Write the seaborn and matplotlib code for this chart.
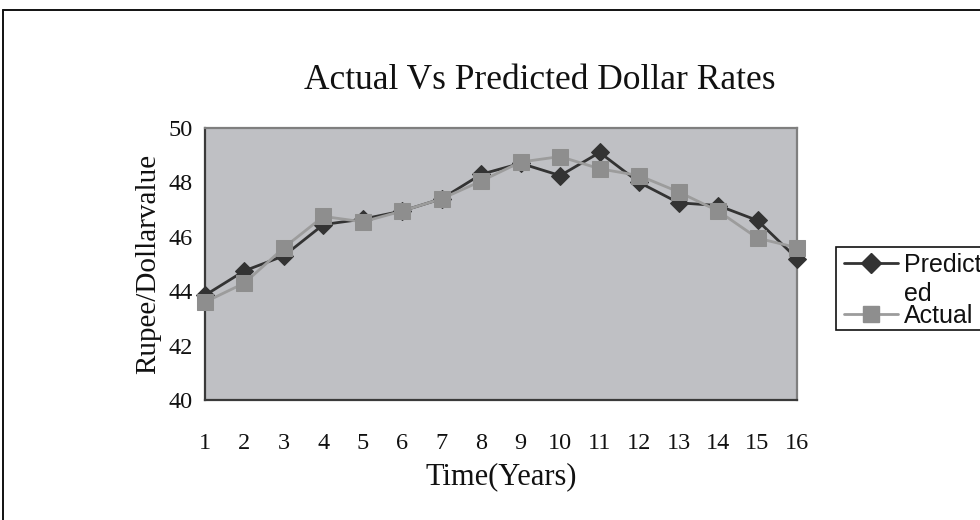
import matplotlib
matplotlib.use("Agg")
import matplotlib.pyplot as plt
import seaborn as sns
import pandas as pd
from matplotlib.lines import Line2D
from matplotlib.patches import Rectangle

# Yearly rupee/dollar values
years = list(range(1, 17))
predicted = [43.85, 44.75, 45.3, 46.45, 46.65, 46.95, 47.4, 48.3,
             48.7, 48.25, 49.1, 48.0, 47.25, 47.15, 46.6, 45.2]
actual = [43.6, 44.3, 45.6, 46.75, 46.55, 46.95, 47.4, 48.05,
          48.75, 48.95, 48.5, 48.25, 47.65, 46.95, 45.95, 45.6]
y_ticks = [40, 42, 44, 46, 48, 50]

title = "Actual Vs Predicted Dollar Rates"
x_label = "Time(Years)"
y_label = "Rupee/Dollarvalue"
series_names = ["Predict\ned", "Actual"]

df = pd.DataFrame({"year": years, "predicted": predicted, "actual": actual})

sns.set_style("white")
plt.rcParams["font.family"] = ["Liberation Serif", "DejaVu Serif"]

W, H = 980, 520
fig = plt.figure(figsize=(W / 100, H / 100), dpi=100)
fig.patch.set_facecolor("white")

def fx(px):
    return px / W

def fy(py):
    return 1 - py / H

ax = fig.add_axes([fx(205), fy(400), fx(797) - fx(205), fy(128) - fy(400)])
ax.set_facecolor("#bfc0c4")

pred_color = "#333333"
act_line = "#9c9c9c"
act_marker = "#8e8e8e"

sns.lineplot(data=df, x="year", y="predicted", ax=ax, color=pred_color,
             linewidth=2.0, marker="D", markersize=9,
             markeredgecolor=pred_color, markerfacecolor=pred_color,
             clip_on=False, zorder=3)
sns.lineplot(data=df, x="year", y="actual", ax=ax, color=act_line,
             linewidth=2.0, marker="s", markersize=11,
             markeredgecolor=act_marker, markerfacecolor=act_marker,
             clip_on=False, zorder=4)

ax.set_xlim(1, 16)
ax.set_ylim(40, 50)
ax.set_xticks(years)
ax.set_yticks(y_ticks)

for side in ("top", "right"):
    ax.spines[side].set_color("#7f7f7f")
    ax.spines[side].set_linewidth(1.6)
for side in ("left", "bottom"):
    ax.spines[side].set_color("#3a3a3a")
    ax.spines[side].set_linewidth(1.6)

ax.tick_params(axis="both", direction="inout", length=14, width=1.2,
               color="#222222", labelsize=17.5, labelcolor="#111111")
ax.tick_params(axis="x", pad=17)
ax.tick_params(axis="y", pad=2)

ax.set_xlabel(x_label, fontsize=22, color="#111111")
ax.set_ylabel(y_label, fontsize=21, color="#111111")
ax.xaxis.set_label_coords(0.5, (400 - 477) / 272)
ax.xaxis.label.set_verticalalignment("center")
ax.yaxis.set_label_coords((148 - 205) / 592, 0.5)
ax.yaxis.label.set_verticalalignment("center")

fig.text(fx(540), fy(89), title, ha="center", va="baseline",
         fontsize=25.5, color="#111111")

# Outer chart frame (open at right and bottom)
fig.add_artist(Line2D([fx(3), fx(3)], [0, fy(10)], color="#111111",
                      linewidth=1.4, transform=fig.transFigure))
fig.add_artist(Line2D([fx(3), 1], [fy(10), fy(10)], color="#111111",
                      linewidth=1.4, transform=fig.transFigure))

# Legend box
fig.add_artist(Rectangle((fx(836), fy(330)), fx(1000) - fx(836),
                         fy(247) - fy(330), transform=fig.transFigure,
                         facecolor="white", edgecolor="#111111",
                         linewidth=1.2))
fig.add_artist(Line2D([fx(844), fx(898)], [fy(263), fy(263)],
                      color=pred_color, linewidth=2.0,
                      transform=fig.transFigure))
fig.add_artist(Line2D([fx(871)], [fy(263)], color=pred_color, marker="D",
                      markersize=10, transform=fig.transFigure))
fig.add_artist(Line2D([fx(844), fx(898)], [fy(314), fy(314)],
                      color=act_line, linewidth=2.0,
                      transform=fig.transFigure))
fig.add_artist(Line2D([fx(871)], [fy(314)], color=act_marker, marker="s",
                      markersize=12, transform=fig.transFigure))

leg_font = ["Liberation Sans", "DejaVu Sans"]
name_a, name_b = series_names[0].split("\n")
fig.text(fx(904), fy(272), name_a, family=leg_font, fontsize=18,
         va="baseline", ha="left", color="#111111")
fig.text(fx(904), fy(301), name_b, family=leg_font, fontsize=18,
         va="baseline", ha="left", color="#111111")
fig.text(fx(904), fy(323), series_names[1], family=leg_font, fontsize=18,
         va="baseline", ha="left", color="#111111")

fig.savefig("out.png", dpi=100, facecolor="white")
